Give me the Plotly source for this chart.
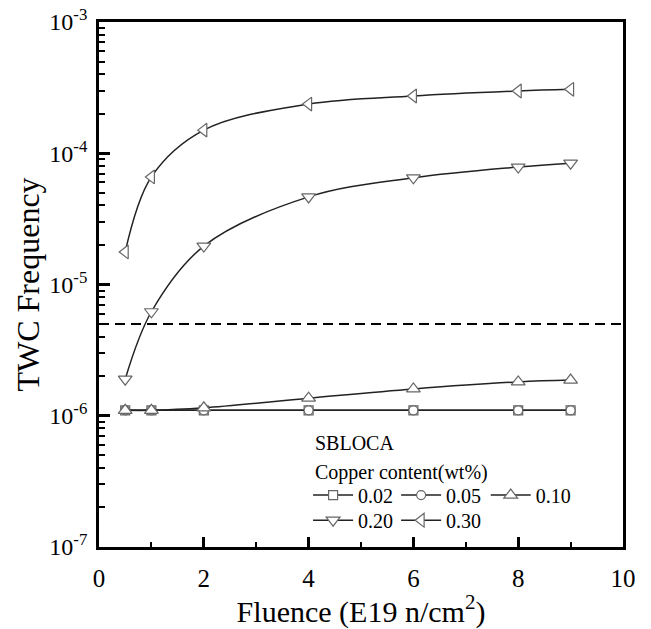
import plotly.graph_objects as go

fluence = [0.5, 1, 2, 4, 6, 8, 9]
cu_002 = [1.1e-6, 1.1e-6, 1.1e-6, 1.1e-6, 1.1e-6, 1.1e-6, 1.1e-6]
cu_005 = [1.1e-6, 1.1e-6, 1.1e-6, 1.1e-6, 1.1e-6, 1.1e-6, 1.1e-6]
cu_010 = [1.1e-6, 1.1e-6, 1.15e-6, 1.36e-6, 1.6e-6, 1.81e-6, 1.87e-6]
cu_020 = [1.9e-6, 6.2e-6, 1.96e-5, 4.65e-5, 6.5e-5, 7.85e-5, 8.4e-5]
cu_030 = [1.77e-5, 6.6e-5, 1.5e-4, 2.37e-4, 2.73e-4, 2.98e-4, 3.07e-4]
threshold = 5e-6

labels = ["0.02", "0.05", "0.10", "0.20", "0.30"]
values = [cu_002, cu_005, cu_010, cu_020, cu_030]
symbols = ["square", "circle", "triangle-up", "triangle-down", "triangle-left"]
sizes = [9, 9, 12, 12, 12]

y_tickvals = [1e-7, 1e-6, 1e-5, 1e-4, 1e-3]
y_ticktext = ["10<sup>-7</sup>", "10<sup>-6</sup>", "10<sup>-5</sup>", "10<sup>-4</sup>", "10<sup>-3</sup>"]
y_minor = [m * 10.0 ** e for e in range(-7, -3) for m in range(2, 10)]
x_tickvals = [0, 2, 4, 6, 8, 10]

FONT = "Liberation Serif"

# legend slot positions (paper coords) for each series
leg_x = [0.399, 0.567, 0.738, 0.399, 0.567]
leg_y = [0.099, 0.099, 0.099, 0.051, 0.051]

fig = go.Figure()
for i, (name, vals, sym, sz) in enumerate(zip(labels, values, symbols, sizes)):
    lname = "legend" if i == 0 else f"legend{i + 1}"
    fig.add_trace(go.Scatter(
        x=fluence, y=vals, name=name, mode="lines+markers",
        legend=lname,
        line=dict(color="#222222", width=1.5, shape="spline", smoothing=1),
        marker=dict(symbol=sym, size=sz, color="white",
                    line=dict(color="#666666", width=1.2)),
    ))

fig.add_shape(type="line", xref="x", yref="y", x0=0, x1=10,
              y0=threshold, y1=threshold,
              line=dict(color="black", width=2, dash="10px,6px"))

fig.add_annotation(text="SBLOCA", xref="paper", yref="paper",
                   x=0.408, y=0.198, xanchor="left", yanchor="middle",
                   showarrow=False, font=dict(family=FONT, size=20, color="black"))
fig.add_annotation(text="Copper content(wt%)", xref="paper", yref="paper",
                   x=0.408, y=0.141, xanchor="left", yanchor="middle",
                   showarrow=False, font=dict(family=FONT, size=20, color="black"))

legend_common = dict(font=dict(family=FONT, size=20, color="black"),
                     bgcolor="rgba(0,0,0,0)", borderwidth=0, itemwidth=40,
                     xanchor="left", yanchor="middle", orientation="h")
layout_legends = {}
for i in range(5):
    key = "legend" if i == 0 else f"legend{i + 1}"
    layout_legends[key] = dict(x=leg_x[i], y=leg_y[i], **legend_common)

fig.update_layout(
    width=651, height=629,
    margin=dict(l=99, r=28, t=22, b=82),
    paper_bgcolor="white", plot_bgcolor="white",
    font=dict(family=FONT, size=20, color="black"),
    showlegend=True,
    xaxis=dict(
        range=[0, 10], tickvals=x_tickvals, ticks="inside", ticklen=10, tickwidth=2.5,
        tickcolor="black", showline=True, linewidth=2.8, linecolor="black",
        mirror=True, showgrid=False, zeroline=False, ticklabelstandoff=7,
        automargin=False,
        minor=dict(ticks="inside", ticklen=5, tickwidth=2, tickmode="array",
                   tickvals=[1, 3, 5, 7, 9], tickcolor="black", showgrid=False),
        title=dict(text="Fluence (E19 n/cm<sup>2</sup>)", font=dict(family=FONT, size=30), standoff=9),
        tickfont=dict(family=FONT, size=25),
    ),
    yaxis=dict(
        type="log", range=[-7, -3], tickvals=y_tickvals, ticktext=y_ticktext,
        ticks="inside", ticklen=11, tickwidth=2.5, tickcolor="black",
        showline=True, linewidth=2.8, linecolor="black", mirror=True,
        showgrid=False, zeroline=False, ticklabelstandoff=4,
        automargin=False,
        minor=dict(ticks="inside", ticklen=6, tickwidth=2, tickmode="array",
                   tickvals=y_minor, tickcolor="black", showgrid=False),
        title=dict(text="TWC Frequency", font=dict(family=FONT, size=32), standoff=1),
        tickfont=dict(family=FONT, size=24),
    ),
    **layout_legends,
)

fig.write_html("out.html")
